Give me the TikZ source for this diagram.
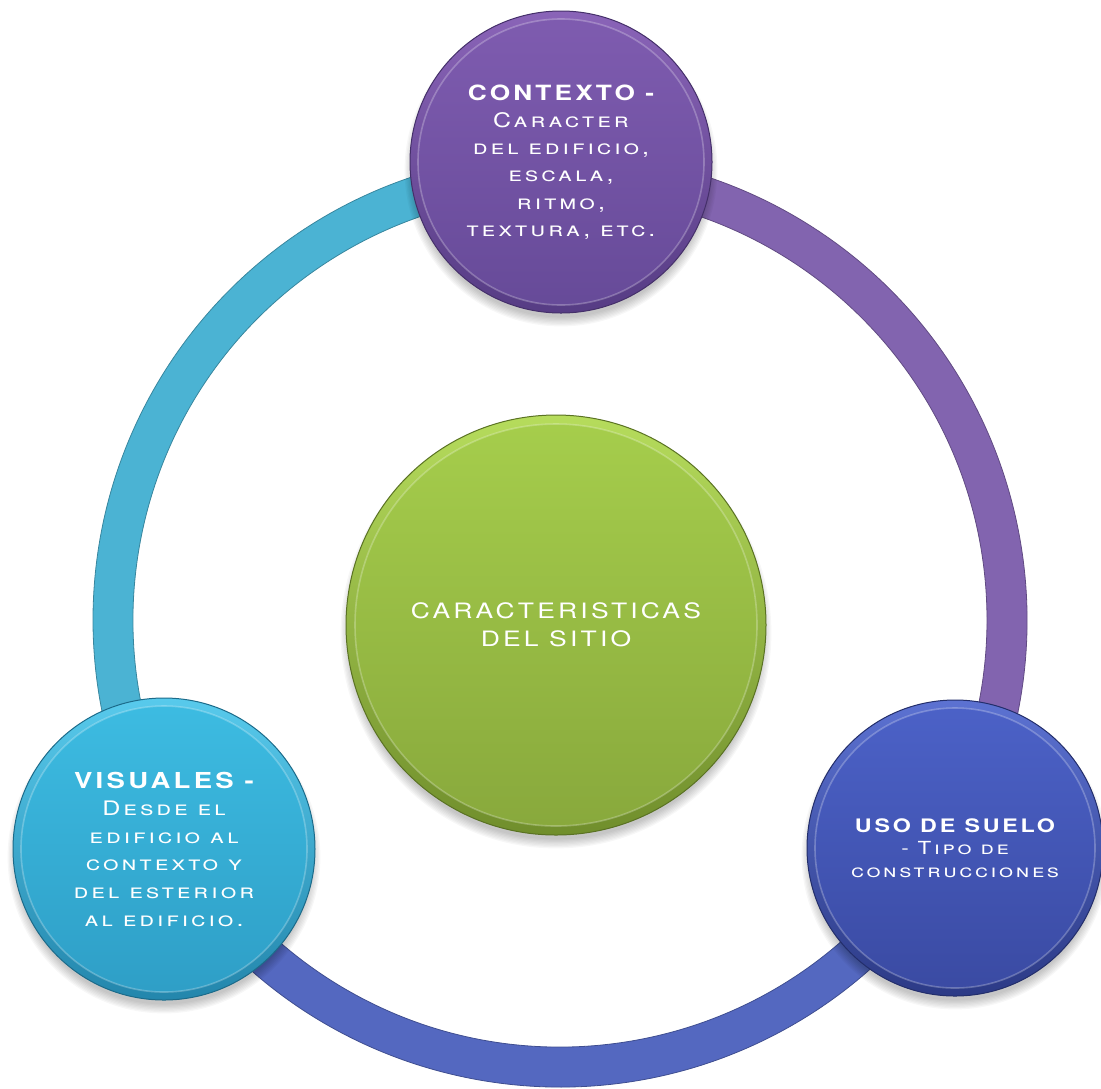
\documentclass[tikz,border=0pt]{standalone}
\usepackage{fontspec}
\setmainfont{TeX Gyre Heros}[FakeStretch=1.25,LetterSpace=15]
\usetikzlibrary{calc}
\definecolor{ringcyan}{HTML}{4BB3D3}
\definecolor{ringblue}{HTML}{5468C0}
\definecolor{ringpurple}{HTML}{8264AF}
\definecolor{pTop}{HTML}{8A64B8}\definecolor{pBot}{HTML}{563C84}
\definecolor{pInTop}{HTML}{7F5CB0}\definecolor{pInBot}{HTML}{664A98}
\definecolor{gTop}{HTML}{B6DC5C}\definecolor{gBot}{HTML}{708E2C}
\definecolor{gInTop}{HTML}{A6CE4C}\definecolor{gInBot}{HTML}{88A83C}
\definecolor{cTop}{HTML}{58CAEC}\definecolor{cBot}{HTML}{2386AC}
\definecolor{cInTop}{HTML}{3DBCE2}\definecolor{cInBot}{HTML}{2E9EC6}
\definecolor{bTop}{HTML}{5C72D2}\definecolor{bBot}{HTML}{2C3A86}
\definecolor{bInTop}{HTML}{4C62C8}\definecolor{bInBot}{HTML}{3A4AA2}
\newcommand\myringseg[3]{\path[draw=#1!75!black,line width=0.4pt,fill=#1]
  ([shift={(#2:467)}]rc) arc[start angle=#2,end angle=#3,radius=467]
  -- ([shift={(#3:427)}]rc) arc[start angle=#3,end angle=#2,radius=427] -- cycle;}
\newcommand\mysoftshadow[2]{\foreach \k in {1,...,8}{\fill[black,opacity=0.03] ([yshift=-4pt]#1) circle[radius=#2-5+\k*1.3];}}
\tikzset{
  bubble/.style n args={6}{circle, inner sep=0pt, minimum size=#1, text=white, align=center,
    top color=#2, bottom color=#3, draw=#3!80!black, line width=0.5pt,
    path picture={\shade[top color=#4, bottom color=#5] (path picture bounding box.center) circle[radius=#6];
      \draw[white, opacity=0.25, line width=0.8pt] (path picture bounding box.center) circle[radius=#6];}}
}
\begin{document}
\begin{tikzpicture}[x=0.5pt,y=0.5pt]
\useasboundingbox (0,0) rectangle (1101,-1088);
\coordinate (rc) at (560,-620);
\coordinate (pT) at (561,-162);
\coordinate (pL) at (164,-849);
\coordinate (pR) at (955,-848);
\coordinate (pC) at (556,-625);
% ring
\myringseg{ringcyan}{90}{210}
\myringseg{ringblue}{210}{330}
\myringseg{ringpurple}{330}{450}
% shadows
\mysoftshadow{pT}{151}
\mysoftshadow{pL}{151}
\mysoftshadow{pR}{148}
\mysoftshadow{pC}{210}
% bubbles
\node[bubble={151pt}{pTop}{pBot}{pInTop}{pInBot}{143},
      font={\fontsize{10}{13.6}\selectfont\scshape}] (top) at (pT)
  {{\fontsize{10.5}{13.6}\selectfont\bfseries\upshape CONTEXTO -}\\
   Caracter\\ del edificio,\\ escala,\\ ritmo,\\ textura, etc.};
\node[bubble={151pt}{cTop}{cBot}{cInTop}{cInBot}{143},
      font={\fontsize{10}{13.8}\selectfont\scshape}] (vis) at (pL)
  {{\fontsize{11}{13.8}\selectfont\bfseries\upshape VISUALES -}\\
   Desde el\\ edificio al\\ contexto y\\ del esterior\\ al edificio.};
\node[bubble={148pt}{bTop}{bBot}{bInTop}{bInBot}{140},
      font={\fontsize{9}{11.2}\selectfont\scshape}] (uso) at (pR)
  {{\fontsize{9.3}{11.2}\selectfont\bfseries\upshape USO DE SUELO}\\
   - Tipo de\\ construcciones};
\node[bubble={210pt}{gTop}{gBot}{gInTop}{gInBot}{201},
      font={\fontsize{10.6}{14}\selectfont}] (car) at (pC)
  {CARACTERISTICAS\\ DEL SITIO};
\end{tikzpicture}
\end{document}
